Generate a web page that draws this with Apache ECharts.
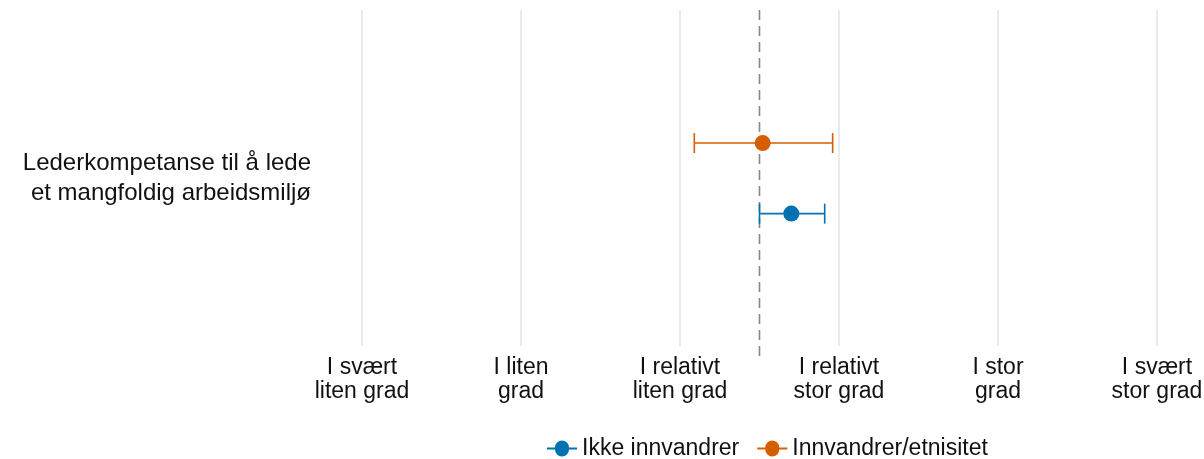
<!DOCTYPE html>
<html>
<head>
<meta charset="utf-8">
<script src="https://cdn.jsdelivr.net/npm/echarts@6/dist/echarts.min.js"></script>
<style>html,body{margin:0;padding:0;background:#fff}#c{width:1204px;height:459px}</style>
</head>
<body>
<div id="c"></div>
<script>
const categories = ['Lederkompetanse til å lede\net mangfoldig arbeidsmiljø'];
const tickLabels = ['I svært\nliten grad', 'I liten\ngrad', 'I relativt\nliten grad', 'I relativt\nstor grad', 'I stor\ngrad', 'I svært\nstor grad'];
const seriesNames = ['Ikke innvandrer', 'Innvandrer/etnisitet'];
const meanIkke = [3.70];
const lowIkke = [3.50];
const highIkke = [3.91];
const meanInnv = [3.52];
const lowInnv = [3.09];
const highInnv = [3.96];
const refValue = 3.5;

const colors = ['#0072B2', '#D55E00'];
const dodge = [0.106, -0.104];
const FONT = "'Liberation Sans', Arial, sans-serif";

function makeSeries(idx, mean, low, high) {
  const data = categories.map((c, i) => [mean[i], i, low[i], high[i]]);
  return {
    name: seriesNames[idx],
    type: 'custom',
    z: 5,
    itemStyle: { color: colors[idx] },
    renderItem: function (params, api) {
      const cat = api.value(1);
      const band = api.size([0, 1])[1];
      const off = dodge[idx] * band;
      const pm = api.coord([api.value(0), cat]);
      const pl = api.coord([api.value(2), cat]);
      const ph = api.coord([api.value(3), cat]);
      const y = pm[1] + off;
      const cap = 10;
      const st = { stroke: colors[idx], lineWidth: 1.6 };
      return {
        type: 'group',
        children: [
          { type: 'line', shape: { x1: pl[0], y1: y, x2: ph[0], y2: y }, style: st },
          { type: 'line', shape: { x1: pl[0], y1: y - cap, x2: pl[0], y2: y + cap }, style: st },
          { type: 'line', shape: { x1: ph[0], y1: y - cap, x2: ph[0], y2: y + cap }, style: st },
          { type: 'circle', shape: { cx: pm[0], cy: y, r: 8 }, style: { fill: colors[idx] } }
        ]
      };
    },
    encode: { x: [0, 2, 3], y: 1 },
    data: data
  };
}

const chart = echarts.init(document.getElementById('c'));
chart.setOption({
  animation: false,
  backgroundColor: '#fff',
  grid: { left: 362, right: 47, top: 10, bottom: 113, containLabel: false, outerBoundsMode: 'none' },
  xAxis: {
    type: 'value', min: 1, max: 6, interval: 1,
    axisLine: { show: false }, axisTick: { show: false },
    splitLine: { show: true, lineStyle: { color: '#e3e3e3', width: 1.5 } },
    axisLabel: {
      formatter: v => tickLabels[Math.round(v) - 1] || '',
      color: '#111', fontFamily: FONT, fontSize: 23,
      lineHeight: 24, margin: 10
    }
  },
  yAxis: {
    type: 'category', data: categories,
    axisLine: { show: false }, axisTick: { show: false },
    splitLine: { show: false },
    axisLabel: {
      color: '#111', fontFamily: FONT, fontSize: 24, lineHeight: 30,
      margin: 51, align: 'right'
    }
  },
  legend: {
    top: 432, left: 542,
    itemGap: 18, itemWidth: 30, itemHeight: 16,
    textStyle: { color: '#111', fontFamily: FONT, fontSize: 23 },
    data: seriesNames.map((n, i) => ({
      name: n,
      icon: 'path://M0,7 L8,7 A7,7 0 0 1 22,7 L30,7 L30,9 L22,9 A7,7 0 0 1 8,9 L0,9 Z',
      itemStyle: { color: colors[i] }
    }))
  },
  series: [
    makeSeries(0, meanIkke, lowIkke, highIkke),
    makeSeries(1, meanInnv, lowInnv, highInnv)
  ]
});
const refX = chart.convertToPixel({ xAxisIndex: 0 }, refValue);
chart.setOption({
  graphic: [{
    type: 'line', z: 3, silent: true,
    shape: { x1: refX, y1: 10, x2: refX, y2: 357 },
    style: { stroke: '#888', lineWidth: 1.6, lineDash: [10, 6] }
  }]
});
</script>
</body>
</html>
